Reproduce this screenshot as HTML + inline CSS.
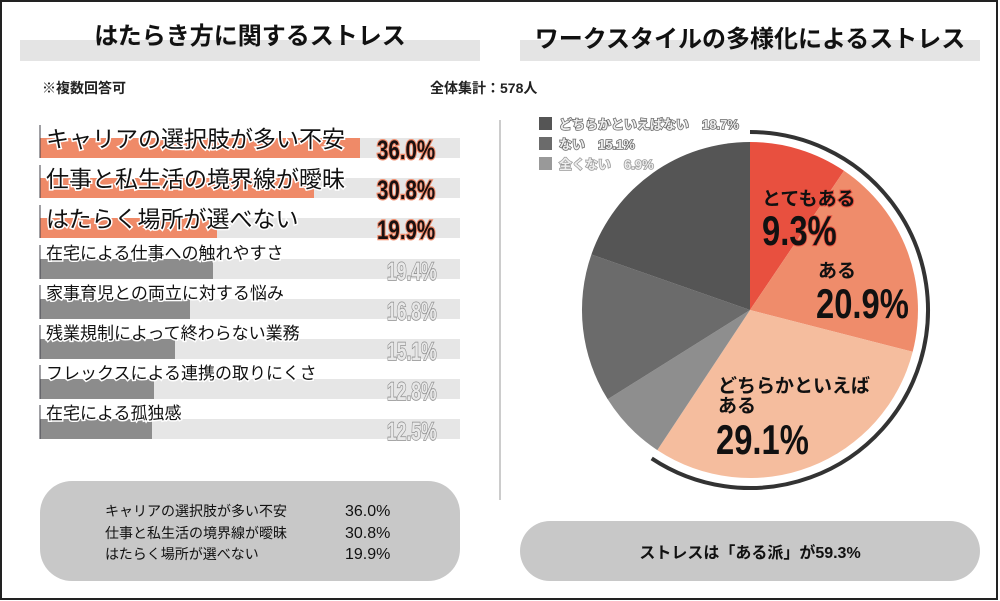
<!DOCTYPE html>
<html><head><meta charset="utf-8"><style>
html,body{margin:0;padding:0;background:#fff}
svg{display:block}
text{font-family:"Liberation Sans","Noto Sans CJK JP",sans-serif}
.c{font-family:"Liberation Sans Narrow","Liberation Sans",sans-serif;font-weight:bold}
</style></head><body>
<svg width="1000" height="601" viewBox="0 0 1000 601" xmlns="http://www.w3.org/2000/svg">
<rect x="1" y="1" width="996" height="598" fill="#fff" stroke="#222" stroke-width="2"/>
<rect x="20" y="40" width="460" height="21" fill="#e4e4e4"/>
<text x="250" y="44" font-size="24" font-weight="bold" text-anchor="middle" fill="#111">はたらき方に関するストレス</text>
<rect x="520" y="40" width="460" height="21" fill="#e4e4e4"/>
<text x="750" y="47" font-size="24" font-weight="bold" text-anchor="middle" fill="#111">ワークスタイルの多様化によるストレス</text>
<text x="42" y="93" font-size="14" font-weight="bold" fill="#222">※複数回答可</text>
<text x="430" y="93" font-size="14" font-weight="bold" fill="#222">全体集計：578人</text>
<line x1="500" y1="120" x2="500" y2="500" stroke="#ccc" stroke-width="2"/>
<g>
<rect x="40" y="138" width="420" height="20" fill="#e6e6e6"/><rect x="40" y="138" width="320" height="20" fill="#ef8a68"/>
<rect x="40" y="178" width="420" height="20" fill="#e6e6e6"/><rect x="40" y="178" width="274" height="20" fill="#ef8a68"/>
<rect x="40" y="218" width="420" height="20" fill="#e6e6e6"/><rect x="40" y="218" width="177" height="20" fill="#ef8a68"/>
<rect x="40" y="259" width="420" height="20" fill="#e6e6e6"/><rect x="40" y="259" width="173" height="20" fill="#8c8c8c"/>
<rect x="40" y="299" width="420" height="20" fill="#e6e6e6"/><rect x="40" y="299" width="150" height="20" fill="#8c8c8c"/>
<rect x="40" y="339" width="420" height="20" fill="#e6e6e6"/><rect x="40" y="339" width="135" height="20" fill="#8c8c8c"/>
<rect x="40" y="379" width="420" height="20" fill="#e6e6e6"/><rect x="40" y="379" width="114" height="20" fill="#8c8c8c"/>
<rect x="40" y="419" width="420" height="20" fill="#e6e6e6"/><rect x="40" y="419" width="112" height="20" fill="#8c8c8c"/>
</g>
<g fill="#111" stroke="#fff" stroke-width="3" paint-order="stroke">
<text x="46" y="147" font-size="23">キャリアの選択肢が多い不安</text>
<text x="46" y="187" font-size="23">仕事と私生活の境界線が曖昧</text>
<text x="46" y="227" font-size="23">はたらく場所が選べない</text>
<text x="46" y="259" font-size="17">在宅による仕事への触れやすさ</text>
<text x="46" y="299" font-size="17">家事育児との両立に対する悩み</text>
<text x="46" y="339" font-size="17">残業規制によって終わらない業務</text>
<text x="46" y="379" font-size="17">フレックスによる連携の取りにくさ</text>
<text x="46" y="419" font-size="17">在宅による孤独感</text>
</g>
<g stroke="#40404a" stroke-width="1"><line x1="40" y1="125" x2="40" y2="158"/><line x1="40" y1="165" x2="40" y2="198"/><line x1="40" y1="205" x2="40" y2="238"/><line x1="40" y1="245" x2="40" y2="279"/><line x1="40" y1="285" x2="40" y2="319"/><line x1="40" y1="325" x2="40" y2="359"/><line x1="40" y1="365" x2="40" y2="399"/><line x1="40" y1="405" x2="40" y2="439"/></g>
<g class="c" font-size="27" fill="#1a1010" stroke="#f08a6a" stroke-width="2.5" paint-order="stroke">
<text transform="translate(377,159) scale(0.76,1)">36.0%</text>
<text transform="translate(377,199) scale(0.76,1)">30.8%</text>
<text transform="translate(377,239) scale(0.76,1)">19.9%</text>
</g>
<g class="c" font-size="25" fill="#e8e8e8" stroke="#8c8c8c" stroke-width="1.5" paint-order="stroke">
<text transform="translate(387,280) scale(0.7,1)">19.4%</text>
<text transform="translate(387,320) scale(0.7,1)">16.8%</text>
<text transform="translate(387,360) scale(0.7,1)">15.1%</text>
<text transform="translate(387,400) scale(0.7,1)">12.8%</text>
<text transform="translate(387,440) scale(0.7,1)">12.5%</text>
</g>
<rect x="40" y="481" width="420" height="100" rx="32" fill="#c8c8c8"/>
<g font-size="14" fill="#111">
<text x="105" y="516">キャリアの選択肢が多い不安</text><text x="345" y="516" font-size="16">36.0%</text>
<text x="105" y="538">仕事と私生活の境界線が曖昧</text><text x="345" y="538" font-size="16">30.8%</text>
<text x="105" y="559">はたらく場所が選べない</text><text x="345" y="559" font-size="16">19.9%</text>
</g>
<rect x="520" y="521" width="460" height="60" rx="30" fill="#c8c8c8"/>
<text x="750" y="558" font-size="16" font-weight="bold" text-anchor="middle" fill="#111">ストレスは「ある派」が59.3%</text>
<g transform="translate(750,310)">
<path d="M0,0 L0,-168 A168,168 0 0,1 94.0,-139.2 Z" fill="#e8503f"/>
<path d="M0,0 L94.0,-139.2 A168,168 0 0,1 162.7,41.8 Z" fill="#ef8c6b"/>
<path d="M0,0 L162.7,41.8 A168,168 0 0,1 -92.7,140.1 Z" fill="#f5bd9e"/>
<path d="M0,0 L-92.7,140.1 A168,168 0 0,1 -142.3,89.3 Z" fill="#8e8e8e"/>
<path d="M0,0 L-142.3,89.3 A168,168 0 0,1 -158.6,-55.5 Z" fill="#6b6b6b"/>
<path d="M0,0 L-158.6,-55.5 A168,168 0 0,1 0,-168 Z" fill="#555555"/>
<path d="M0,-178 A178,178 0 1,1 -98.3,148.4" fill="none" stroke="#333" stroke-width="4"/>
</g>
<g fill="#111" font-weight="bold">
<text x="762" y="205" font-size="19" stroke="#e8503f" stroke-width="2" paint-order="stroke">とてもある</text>
<text class="c" transform="translate(762,245) scale(0.78,1)" font-size="42" stroke="#e8503f" stroke-width="2" paint-order="stroke">9.3%</text>
<text x="818" y="277" font-size="19">ある</text>
<text class="c" transform="translate(816,318) scale(0.78,1)" font-size="42">20.9%</text>
<text x="718" y="392" font-size="19">どちらかといえば</text>
<text x="718" y="412" font-size="19">ある</text>
<text class="c" transform="translate(716,454) scale(0.78,1)" font-size="42">29.1%</text>
</g>
<rect x="539" y="117" width="13" height="13" fill="#555"/>
<rect x="539" y="137" width="13" height="13" fill="#6b6b6b"/>
<rect x="539" y="157" width="13" height="13" fill="#999"/>
<g font-size="13" font-weight="bold" fill="#eee" stroke="#666" stroke-width="1.5" paint-order="stroke">
<text x="559" y="129">どちらかといえばない　18.7%</text>
<text x="559" y="149">ない　15.1%</text>
<text x="559" y="169" stroke="#999">全くない　6.9%</text>
</g>
</svg>
</body></html>
